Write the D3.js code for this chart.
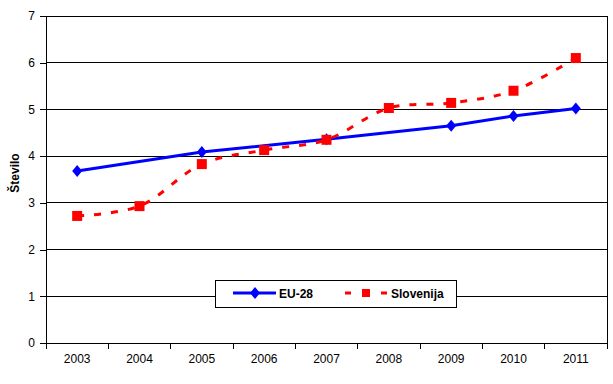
<!DOCTYPE html>
<html>
<head>
<meta charset="utf-8">
<script src="https://cdn.jsdelivr.net/npm/d3@7"></script>
<style>
  body { margin: 0; background: #fff; }
  text { font-family: "Liberation Sans", Arial, sans-serif; }
</style>
</head>
<body>
<div id="chart"></div>
<script>
// podatki
var years = ["2003", "2004", "2005", "2006", "2007", "2008", "2009", "2010", "2011"];
// EU-28 nima podatka za 2004, 2006 in 2008
var eu28 = [3.68, null, 4.09, null, 4.36, null, 4.65, 4.86, 5.02];
var slovenija = [2.72, 2.93, 3.83, 4.13, 4.35, 5.03, 5.14, 5.40, 6.10];
var yTicks = [0, 1, 2, 3, 4, 5, 6, 7];

var width = 613, height = 384;
var margin = { left: 46, right: 6, top: 16, bottom: 41 };

var svg = d3.select("#chart").append("svg")
  .attr("width", width).attr("height", height);

var x = d3.scaleBand().domain(years)
  .range([margin.left, width - margin.right]);
var y = d3.scaleLinear().domain([0, 7])
  .range([height - margin.bottom, margin.top]);

// mreža
svg.append("g").selectAll("line")
  .data(yTicks.slice(1))
  .enter().append("line")
  .attr("x1", margin.left).attr("x2", width - margin.right)
  .attr("y1", function(d) { return y(d); })
  .attr("y2", function(d) { return y(d); })
  .attr("stroke", "#000").attr("stroke-width", 1)
  .attr("shape-rendering", "crispEdges");

// desni rob
svg.append("line")
  .attr("x1", width - margin.right).attr("x2", width - margin.right)
  .attr("y1", y(7)).attr("y2", y(0))
  .attr("stroke", "#000").attr("shape-rendering", "crispEdges");

// osi
var yAxis = svg.append("g")
  .attr("transform", "translate(" + margin.left + ",0)")
  .call(d3.axisLeft(y).tickValues(yTicks).tickFormat(d3.format("d")).tickSize(6).tickPadding(5));
var xAxis = svg.append("g")
  .attr("transform", "translate(0," + y(0) + ")")
  .call(d3.axisBottom(x).tickSize(0).tickPadding(11));
// ločilne oznake med kategorijami
var xtickPos = years.map(function(d) { return x(d); }).concat([width - margin.right]);
svg.append("g").selectAll("line")
  .data(xtickPos)
  .enter().append("line")
  .attr("x1", function(d) { return d; }).attr("x2", function(d) { return d; })
  .attr("y1", y(0)).attr("y2", y(0) + 6)
  .attr("stroke", "#000").attr("shape-rendering", "crispEdges");

[yAxis, xAxis].forEach(function(g) {
  g.attr("font-size", null).attr("font-family", null);
  g.selectAll("path,line").attr("stroke", "#000").attr("shape-rendering", "crispEdges");
  g.selectAll("text").attr("fill", "#000")
    .style("font-size", "12px")
    .style("font-family", "'Liberation Sans', Arial, sans-serif");
});
xAxis.select(".domain").attr("d", "M" + margin.left + ",0H" + (width - margin.right));

// naslov osi y
svg.append("text")
  .attr("transform", "translate(19,173) rotate(-90)")
  .attr("text-anchor", "middle")
  .style("font-size", "12px").attr("font-weight", "bold")
  .text("Število");

var cx = function(i) { return x(years[i]) + x.bandwidth() / 2; };
var diamondPath = "M0,-6L5,0L0,6L-5,0Z";

// EU-28 (črta poveže manjkajoča leta)
var euPts = eu28.map(function(v, i) { return { i: i, v: v }; })
  .filter(function(d) { return d.v != null; });
var lineEu = d3.line()
  .x(function(d) { return cx(d.i); })
  .y(function(d) { return y(d.v); });
svg.append("path").datum(euPts)
  .attr("d", lineEu)
  .attr("fill", "none").attr("stroke", "#0000ff").attr("stroke-width", 3);
svg.append("g").selectAll("path")
  .data(euPts).enter().append("path")
  .attr("d", diamondPath)
  .attr("transform", function(d) { return "translate(" + cx(d.i) + "," + y(d.v) + ")"; })
  .attr("fill", "#0000ff");

// Slovenija - glajena črtkana črta
var lineSlo = d3.line()
  .x(function(d, i) { return cx(i); })
  .y(function(d) { return y(d); })
  .curve(d3.curveCatmullRom.alpha(0.5));
svg.append("path").datum(slovenija)
  .attr("d", lineSlo)
  .attr("fill", "none").attr("stroke", "#ff0000")
  .attr("stroke-width", 3).attr("stroke-dasharray", "7,10");
svg.append("g").selectAll("rect")
  .data(slovenija).enter().append("rect")
  .attr("x", function(d, i) { return cx(i) - 5; })
  .attr("y", function(d) { return y(d) - 5; })
  .attr("width", 10).attr("height", 10)
  .attr("fill", "#ff0000");

// legenda
var leg = svg.append("g");
leg.append("rect")
  .attr("x", 215.5).attr("y", 280.5).attr("width", 241).attr("height", 27)
  .attr("fill", "#fff").attr("stroke", "#000");
leg.append("line")
  .attr("x1", 233).attr("x2", 276).attr("y1", 293).attr("y2", 293)
  .attr("stroke", "#0000ff").attr("stroke-width", 3);
leg.append("path").attr("d", diamondPath)
  .attr("transform", "translate(255,293)").attr("fill", "#0000ff");
leg.append("text").attr("x", 279).attr("y", 297.5)
  .style("font-size", "12px").attr("font-weight", "bold").text("EU-28");
leg.append("line")
  .attr("x1", 345).attr("x2", 388).attr("y1", 293).attr("y2", 293)
  .attr("stroke", "#ff0000").attr("stroke-width", 3).attr("stroke-dasharray", "6,30");
leg.append("rect")
  .attr("x", 362).attr("y", 289).attr("width", 8).attr("height", 8)
  .attr("fill", "#ff0000");
leg.append("text").attr("x", 391).attr("y", 297.5)
  .style("font-size", "12px").attr("font-weight", "bold").text("Slovenija");
</script>
</body>
</html>
